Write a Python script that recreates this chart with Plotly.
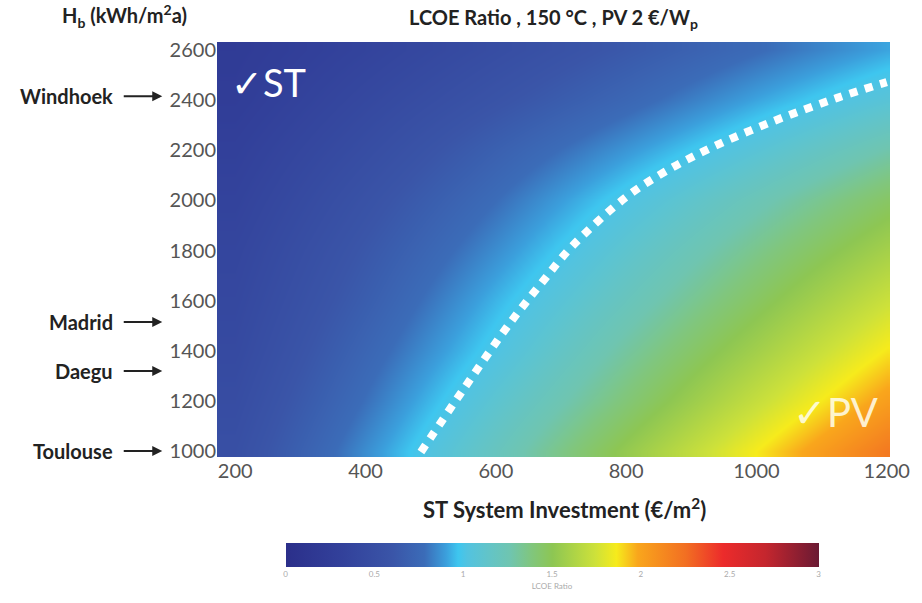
import plotly.graph_objects as go

# ST system investment (€/m²) grid and irradiation H_b (kWh/m²a) grid
invest = [200, 400, 600, 800, 1000, 1200]
irrad = [1000, 1200, 1400, 1600, 1800, 2000, 2200, 2400, 2600]
# LCOE ratio values (rows = irrad, cols = invest)
ratio = [
    [0.52, 0.86, 1.19, 1.53, 1.86, 2.20],
    [0.48, 0.79, 1.10, 1.40, 1.71, 2.02],
    [0.44, 0.73, 1.01, 1.30, 1.58, 1.87],
    [0.41, 0.67, 0.94, 1.20, 1.46, 1.73],
    [0.38, 0.62, 0.86, 1.11, 1.35, 1.59],
    [0.34, 0.56, 0.78, 1.01, 1.23, 1.45],
    [0.30, 0.49, 0.69, 0.88, 1.07, 1.27],
    [0.25, 0.42, 0.58, 0.74, 0.91, 1.07],
    [0.22, 0.35, 0.49, 0.63, 0.77, 0.91],
]
# break-even line (ratio = 1)
contour_x = [485, 550, 623, 670, 716, 800, 860, 933, 1030, 1124, 1200]
contour_y = [996, 1245, 1515, 1670, 1814, 2013, 2115, 2213, 2320, 2409, 2472]

cities = ["Windhoek", "Madrid", "Daegu", "Toulouse"]
city_irrad = [2416, 1515, 1319, 1000]

xticks = [200, 400, 600, 800, 1000, 1200]
yticks = [1000, 1200, 1400, 1600, 1800, 2000, 2200, 2400, 2600]
cbar_ticks = [0, 0.5, 1, 1.5, 2, 2.5, 3]

colorscale = [
    [0.0, "#2b2f8a"],
    [0.10, "#32409a"],
    [0.20, "#3a55a8"],
    [0.26, "#3b6cb8"],
    [0.30, "#3b9fdc"],
    [0.323, "#3ec6ef"],
    [0.34, "#52c3e0"],
    [0.38, "#62c4c8"],
    [0.42, "#6fc5b0"],
    [0.46, "#80c67e"],
    [0.50, "#8dc653"],
    [0.58, "#cde13a"],
    [0.62, "#f6eb1c"],
    [0.66, "#f9a61c"],
    [0.75, "#f26f22"],
    [0.82, "#ec2b2b"],
    [0.90, "#c4262e"],
    [1.0, "#6a1a33"],
]

FONT = "Lato"
L, R, T, B = 217, 29, 42, 146
W, H = 922, 603
pw = W - L - R
ph = H - T - B

fig = go.Figure()
fig.add_trace(go.Heatmap(
    x=invest, y=irrad, z=ratio, zmin=0, zmax=3, zsmooth="best",
    colorscale=colorscale,
    colorbar=dict(
        orientation="h", x=(553.5 - L) / pw, xanchor="center",
        y=(T + ph - 543) / ph, yanchor="top", ypad=0, xpad=0,
        lenmode="pixels", len=533, thickness=24, outlinewidth=0,
        tickvals=cbar_ticks, ticktext=[str(v) for v in cbar_ticks],
        tickfont=dict(family=FONT, size=8, color="#aaaaaa"), ticks="",
        title=dict(text="LCOE Ratio", side="bottom",
                   font=dict(family=FONT, size=8, color="#aaaaaa")),
    ),
    hoverinfo="skip",
))
fig.add_trace(go.Scatter(
    x=contour_x, y=contour_y, mode="lines",
    line=dict(color="white", width=8, dash="8px,8px", shape="spline"),
    hoverinfo="skip", showlegend=False,
))

annotations = [
    dict(text="<b>LCOE Ratio , 150 °C , PV 2 €/W<sub>p</sub></b>", xref="paper", yref="paper",
         x=(555 - L) / pw, y=1, yshift=24, xanchor="center", yanchor="middle", showarrow=False,
         font=dict(family=FONT, size=20, color="#222222")),
    dict(text="<b>H<sub>b</sub> (kWh/m<sup>2</sup>a)</b>", xref="paper", yref="paper",
         x=(124 - L) / pw, y=1, yshift=26, xanchor="center", yanchor="middle", showarrow=False,
         font=dict(family=FONT, size=20, color="#222222")),
    dict(text="<b>ST System Investment (€/m<sup>2</sup>)</b>", xref="paper", yref="paper",
         x=(566 - L) / pw, y=0, yshift=-51, xanchor="center", yanchor="middle", showarrow=False,
         font=dict(family=FONT, size=22, color="#222222")),
    dict(text="✓ST", xref="paper", yref="paper", x=(229 - L) / pw, y=(T + ph - 82) / ph,
         xanchor="left", yanchor="middle", showarrow=False,
         font=dict(family=FONT, size=38, color="white")),
    dict(text="✓PV", xref="paper", yref="paper", x=(794 - L) / pw, y=(T + ph - 412) / ph,
         xanchor="left", yanchor="middle", showarrow=False,
         font=dict(family=FONT, size=40, color="rgba(255,255,240,0.85)")),
]
for name, hv in zip(cities, city_irrad):
    annotations.append(dict(text="<b>" + name + "</b>", xref="paper", yref="y",
                            x=(115 - L) / pw, y=hv, xanchor="right", yanchor="middle",
                            showarrow=False, font=dict(family=FONT, size=20, color="#222222")))
    annotations.append(dict(text="", xref="paper", yref="y", x=(162 - L) / pw, y=hv,
                            ax=-40, ay=0, showarrow=True, arrowhead=2, arrowsize=1,
                            arrowwidth=2, arrowcolor="#222222"))

fig.update_layout(
    width=W, height=H,
    margin=dict(l=L, r=R, t=T, b=B, pad=0),
    paper_bgcolor="white", plot_bgcolor="white",
    annotations=annotations,
    xaxis=dict(range=[172, 1205], tickvals=xticks, showgrid=False, zeroline=False,
               ticks="", tickfont=dict(family=FONT, size=20, color="#555555")),
    yaxis=dict(range=[976, 2632], tickvals=yticks, showgrid=False, zeroline=False,
               ticks="", tickfont=dict(family=FONT, size=20, color="#555555")),
)
fig.write_html("out.html", config={"displayModeBar": False},
               post_script="document.body.style.margin='0px';")
